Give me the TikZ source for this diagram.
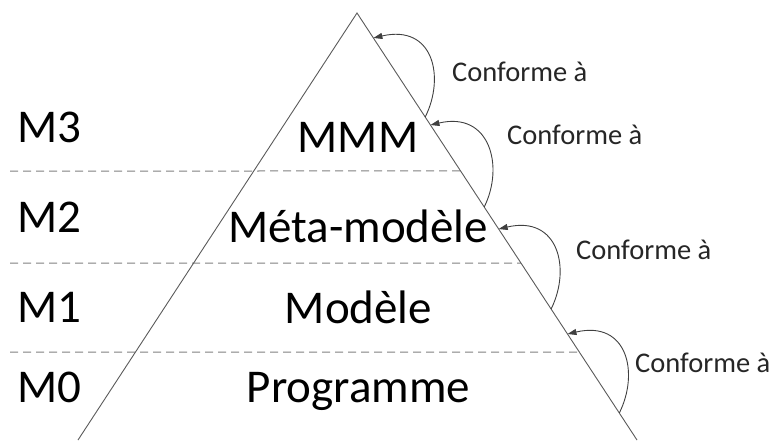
\documentclass[tikz,border=0pt]{standalone}
\usepackage{fontspec}
\setmainfont{Carlito}
\usetikzlibrary{arrows.meta}
\definecolor{sidegray}{HTML}{5A5A5A}
\definecolor{dashgray}{HTML}{808080}
\definecolor{arcgray}{HTML}{404040}
\definecolor{labeltext}{HTML}{262626}
\tikzset{
  side/.style={draw=sidegray, line width=0.9pt},
  sep/.style={draw=dashgray, line width=1pt, dash pattern=on 8pt off 5pt},
  conf/.style={draw=arcgray, line width=0.9pt, -{Triangle[length=9pt,width=6pt]}},
  big/.style={font=\fontsize{47}{50}\selectfont, anchor=base, inner sep=0pt},
  lvl/.style={font=\fontsize{47}{50}\selectfont, anchor=base west, inner sep=0pt},
  conftxt/.style={font=\fontsize{28.5}{30}\selectfont, text=labeltext, anchor=base west, inner sep=0pt},
}
\begin{document}
\begin{tikzpicture}[x=1pt, y=-1pt]
\useasboundingbox (0,0) rectangle (773,440);
\coordinate (apex) at (357,13);
\coordinate (L) at (78,440);
\coordinate (R) at (637,440);
% points on the right side
\path (apex) -- (R)
  coordinate[pos=0.3700] (d1)
  coordinate[pos=0.5855] (d2)
  coordinate[pos=0.7939] (d3)
  coordinate[pos=0.0585] (e1)
  coordinate[pos=0.2436] (s1)
  coordinate[pos=0.2623] (e2)
  coordinate[pos=0.4543] (s2)
  coordinate[pos=0.5059] (e3)
  coordinate[pos=0.6932] (s3)
  coordinate[pos=0.7518] (e4)
  coordinate[pos=0.9368] (s4);
\coordinate (a1) at (10,171);
\coordinate (a2) at (10,263);
\coordinate (a3) at (10,352);
% dashed separators
\draw[sep] (a1) -- (d1);
\draw[sep] (a2) -- (d2);
\draw[sep] (a3) -- (d3);
% triangle sides
\draw[side] (L) -- (apex) -- (R);
% conform arcs
\draw[conf] (s1) .. controls +(20,-40) and +(60,-14) .. (e1);
\draw[conf] (s2) .. controls +(20,-40) and +(60,-14) .. (e2);
\draw[conf] (s3) .. controls +(20,-40) and +(60,-14) .. (e3);
\draw[conf] (s4) .. controls +(20,-40) and +(60,-14) .. (e4);
% labels
\node[conftxt] (c1) at (452,81) {Conforme à};
\node[conftxt] (c2) at (507,144) {Conforme à};
\node[conftxt] (c3) at (576,259) {Conforme à};
\node[conftxt] (c4) at (635,372) {Conforme à};
% level texts
\node[big] (mmm) at (358,152) {MMM};
\node[big] (meta) at (358,242) {Méta-modèle};
\node[big] (mod) at (358.5,323) {Modèle};
\node[big] (prog) at (358.5,402) {Programme};
\node[lvl] (m3) at (17,142) {M3};
\node[lvl] (m2) at (17,232) {M2};
\node[lvl] (m1) at (17,322) {M1};
\node[lvl] (m0) at (17,402) {M0};
\end{tikzpicture}
\end{document}
